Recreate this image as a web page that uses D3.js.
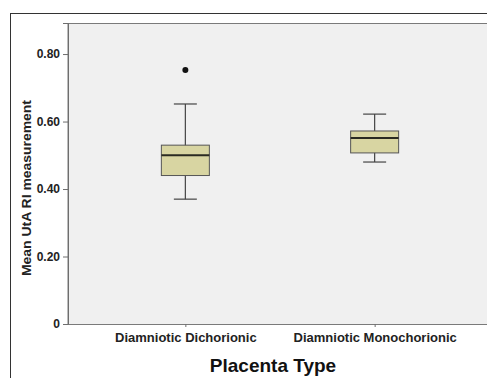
<!DOCTYPE html>
<html>
<head>
<meta charset="utf-8">
<script src="https://cdn.jsdelivr.net/npm/d3@7"></script>
<style>
  html, body { margin: 0; background: #fff; overflow: hidden; }
  svg { display: block; }
</style>
</head>
<body>
<div id="chart"></div>
<script>
const width = 487;
const height = 378;

// data
const categories = ["Diamniotic Dichorionic", "Diamniotic Monochorionic"];
const whiskerLow = [0.37, 0.48];
const q1 = [0.44, 0.507];
const median = [0.50, 0.551];
const q3 = [0.53, 0.572];
const whiskerHigh = [0.652, 0.622];
const outliers = [[0.753], []];
const yTicks = [0, 0.2, 0.4, 0.6, 0.8];

const fontFamily = "Liberation Sans, Arial, sans-serif";
const plot = { left: 68, top: 23, right: 492, bottom: 324 };

// the drawing runs past the right edge, as the picture is cropped there
const svg = d3.select("#chart")
  .append("svg")
  .attr("width", width + 60)
  .attr("height", height)
  .style("font-family", fontFamily);

// outer frame (right and bottom edges fall outside the picture)
svg.append("rect")
  .attr("x", 10.5).attr("y", 13.5)
  .attr("width", 560).attr("height", 450)
  .attr("fill", "#fff")
  .attr("stroke", "#333")
  .attr("stroke-width", 1);

const y = d3.scaleLinear()
  .domain([0, 0.892])
  .range([plot.bottom, plot.top]);

const x = d3.scalePoint()
  .domain(categories)
  .range([plot.left, plot.right])
  .padding(0.62);

// plot background, cut off at the right like the picture
svg.append("rect")
  .attr("x", plot.left).attr("y", plot.top + 0.5)
  .attr("width", plot.right - plot.left + 60)
  .attr("height", plot.bottom - plot.top)
  .attr("fill", "#f0f0f0")
  .attr("stroke", "#7a7a7a")
  .attr("stroke-width", 1);

// y axis
const yAxis = svg.append("g")
  .attr("transform", `translate(${plot.left},0)`)
  .call(d3.axisLeft(y)
    .tickValues(yTicks)
    .tickSize(5)
    .tickPadding(3)
    .tickFormat(d => d === 0 ? "0" : d3.format(".2f")(d)));
yAxis.select(".domain").attr("stroke", "#6e6e6e");
yAxis.selectAll(".tick line").attr("stroke", "#6e6e6e");
yAxis.selectAll(".tick text")
  .attr("font-size", 12)
  .attr("font-weight", "bold")
  .attr("fill", "#222");

// x axis
const xAxis = svg.append("g")
  .attr("transform", `translate(0,${plot.bottom})`)
  .call(d3.axisBottom(x).tickSize(3).tickPadding(6));
xAxis.select(".domain").remove();
xAxis.selectAll(".tick line").attr("stroke", "#6e6e6e");
xAxis.selectAll(".tick text")
  .attr("font-size", 13)
  .attr("font-weight", "bold")
  .attr("fill", "#222");

// axis titles
svg.append("text")
  .attr("x", (x(categories[0]) + x(categories[1])) / 2 - 7)
  .attr("y", 372)
  .attr("text-anchor", "middle")
  .attr("font-size", 19)
  .attr("font-weight", "bold")
  .attr("fill", "#111")
  .text("Placenta Type");

svg.append("text")
  .attr("transform", `translate(31,188) rotate(-90)`)
  .attr("text-anchor", "middle")
  .attr("font-size", 12.5)
  .attr("font-weight", "bold")
  .attr("fill", "#222")
  .attr("textLength", 176)
  .attr("lengthAdjust", "spacingAndGlyphs")
  .text("Mean UtA RI measurement");

// boxes
const boxWidth = 48;
const capWidth = 23;
const groups = svg.append("g")
  .selectAll("g")
  .data(categories.map((c, i) => ({ c, i })))
  .join("g")
  .attr("transform", d => `translate(${x(d.c)},0)`);

groups.append("line")
  .attr("y1", d => y(whiskerLow[d.i]))
  .attr("y2", d => y(whiskerHigh[d.i]))
  .attr("stroke", "#444")
  .attr("stroke-width", 1.2);

groups.selectAll("line.cap")
  .data(d => [whiskerLow[d.i], whiskerHigh[d.i]])
  .join("line")
  .attr("class", "cap")
  .attr("x1", -capWidth / 2).attr("x2", capWidth / 2)
  .attr("y1", v => y(v)).attr("y2", v => y(v))
  .attr("stroke", "#444")
  .attr("stroke-width", 1.2);

groups.append("rect")
  .attr("x", -boxWidth / 2)
  .attr("width", boxWidth)
  .attr("y", d => y(q3[d.i]))
  .attr("height", d => y(q1[d.i]) - y(q3[d.i]))
  .attr("fill", "#d8d5a2")
  .attr("stroke", "#555")
  .attr("stroke-width", 1);

groups.append("line")
  .attr("x1", -boxWidth / 2).attr("x2", boxWidth / 2)
  .attr("y1", d => y(median[d.i]))
  .attr("y2", d => y(median[d.i]))
  .attr("stroke", "#2a2a22")
  .attr("stroke-width", 2);

groups.selectAll("circle")
  .data(d => outliers[d.i])
  .join("circle")
  .attr("cx", 0)
  .attr("cy", v => y(v))
  .attr("r", 3)
  .attr("fill", "#111");
</script>
</body>
</html>
